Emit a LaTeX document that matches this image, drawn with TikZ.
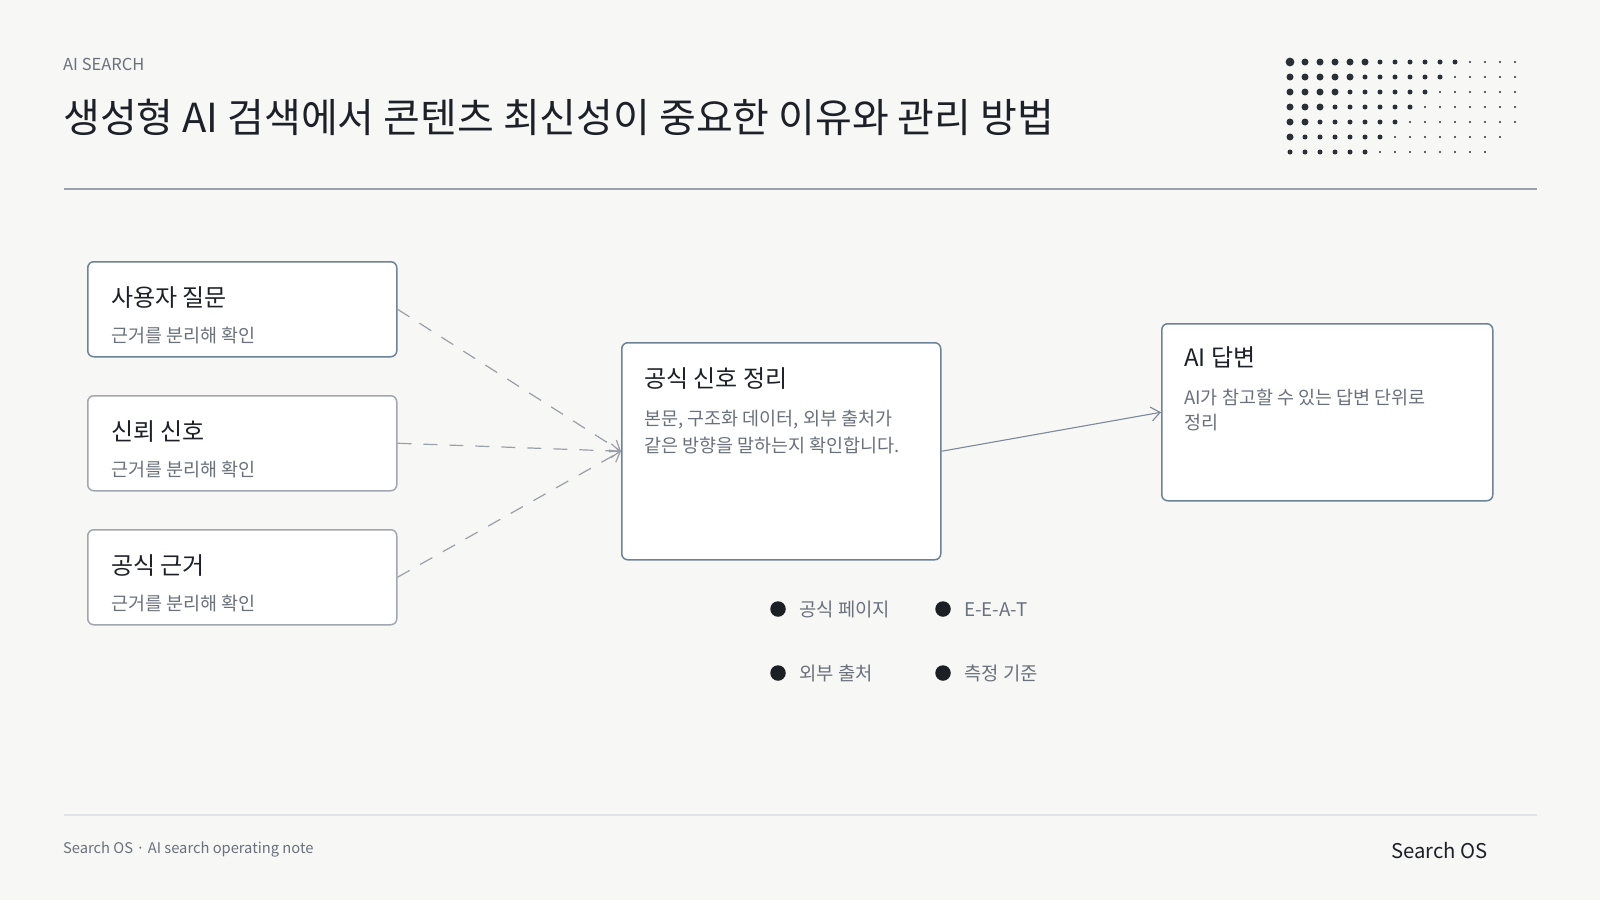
\documentclass[tikz,border=0pt]{standalone}
\usepackage{fontspec}
\setmainfont{Noto Sans CJK KR}
\usetikzlibrary{arrows.meta}
\definecolor{bg}{HTML}{F7F7F6}
\definecolor{ink}{HTML}{1D2127}
\definecolor{muted}{HTML}{6A717B}
\definecolor{slate}{HTML}{6E8296}
\definecolor{lightb}{HTML}{A2A7AF}
\definecolor{rule}{HTML}{9CA1A9}
\definecolor{frule}{HTML}{DFE3E6}
\definecolor{dashc}{HTML}{9AA0A8}
\definecolor{arrc}{HTML}{7D8898}
\definecolor{dotc}{HTML}{2B2F36}
\definecolor{bul}{HTML}{1C1F24}
\tikzset{
  boxsl/.style={draw=slate, line width=1.5pt, fill=white, rounded corners=6pt, inner sep=0pt, anchor=north west},
  boxgr/.style={draw=lightb, line width=1.5pt, fill=white, rounded corners=6pt, inner sep=0pt, anchor=north west},
  btitle/.style={anchor=base west, inner sep=0pt, text=ink, font=\fontsize{24}{28}\selectfont},
  bsub/.style={anchor=base west, inner sep=0pt, text=muted, font=\fontsize{18.5}{22}\selectfont},
  dashline/.style={draw=dashc, line width=1.2pt, dash pattern=on 14pt off 12pt, -{Straight Barb[length=9pt,width=14pt]}},
  solidline/.style={draw=arrc, line width=1.1pt, -{Straight Barb[length=9pt,width=14pt]}},
  bdot/.style={circle, fill=bul, minimum size=15.5pt, inner sep=0pt},
  btext/.style={anchor=base west, inner sep=0pt, text=muted, font=\fontsize{18.8}{22}\selectfont},
}
\begin{document}
\begin{tikzpicture}[x=1pt,y=-1pt]
\useasboundingbox[fill=bg] (0,0) rectangle (1600,900);

% header
\node[anchor=base west, inner sep=0pt, text=muted, font=\fontsize{16.5}{19}\selectfont] (kicker) at (63,70) {AI SEARCH};
\node[anchor=base west, inner sep=0pt, text=ink, font=\fontsize{40}{46}\selectfont] (title) at (63,132) {생성형 AI 검색에서 콘텐츠 최신성이 중요한 이유와 관리 방법};
\draw[rule, line width=2pt] (64,189) -- (1537,189);

% dot grid
\foreach \r in {0,...,6} {
  \foreach \c in {0,...,15} {
    \pgfmathtruncatemacro\s{\r+\c}
    \ifnum\s<20
      \ifnum\s=0
        \fill[dotc] (1290+15*\c,62+15*\r) circle (4.4pt);
      \else\ifnum\s<6
        \fill[dotc] (1290+15*\c,62+15*\r) circle (3.5pt);
      \else\ifnum\s<12
        \fill[dotc] (1290+15*\c,62+15*\r) circle (2.5pt);
      \else
        \fill[dotc] (1290+15*\c,62+15*\r) circle (1.2pt);
      \fi\fi\fi
    \fi
  }
}

% left boxes
\node[boxsl, minimum width=309pt, minimum height=95pt] (b1) at (87,261) {};
\node[btitle] (b1t) at (111,306) {사용자 질문};
\node[bsub] (b1s) at (111,342) {근거를 분리해 확인};

\node[boxgr, minimum width=309pt, minimum height=95pt] (b2) at (87,395) {};
\node[btitle] (b2t) at (111,440) {신뢰 신호};
\node[bsub] (b2s) at (111,476) {근거를 분리해 확인};

\node[boxgr, minimum width=309pt, minimum height=95pt] (b3) at (87,529) {};
\node[btitle] (b3t) at (111,574) {공식 근거};
\node[bsub] (b3s) at (111,610) {근거를 분리해 확인};

% middle box
\node[boxsl, minimum width=319pt, minimum height=217pt] (mid) at (621,342) {};
\node[btitle] (midt) at (644,387) {공식 신호 정리};
\node[bsub] (mid1) at (644,425) {본문, 구조화 데이터, 외부 출처가};
\node[bsub] (mid2) at (644,452) {같은 방향을 말하는지 확인합니다.};

% answer box
\node[boxsl, minimum width=331pt, minimum height=177pt] (ans) at (1161,323) {};
\node[btitle] (anst) at (1184,366) {AI 답변};
\node[bsub] (ans1) at (1184,404) {AI가 참고할 수 있는 답변 단위로};
\node[bsub] (ans2) at (1184,429) {정리};

% connectors
\draw[dashline] (b1.east) -- (mid.west);
\draw[dashline] (b2.east) -- (mid.west);
\draw[dashline] (b3.east) -- (mid.west);
\draw[solidline] (mid.east) -- (ans.west);

% bullets
\node[bdot] (d1) at (778,609) {};
\node[btext] (l1) at (799,616) {공식 페이지};
\node[bdot] (d2) at (943,609) {};
\node[btext] (l2) at (964,616) {E-E-A-T};
\node[bdot] (d3) at (778,673) {};
\node[btext] (l3) at (799,680) {외부 출처};
\node[bdot] (d4) at (943,673) {};
\node[btext] (l4) at (964,680) {측정 기준};

% footer
\draw[frule, line width=2pt] (64,815) -- (1537,815);
\node[anchor=base west, inner sep=0pt, text=muted, font=\fontsize{14.7}{17}\selectfont] (foot) at (63,853) {Search OS · AI search operating note};
\node[anchor=base east, inner sep=0pt, text=ink, font=\fontsize{20.3}{24}\selectfont] (brand) at (1488,858) {Search OS};
\end{tikzpicture}
\end{document}
